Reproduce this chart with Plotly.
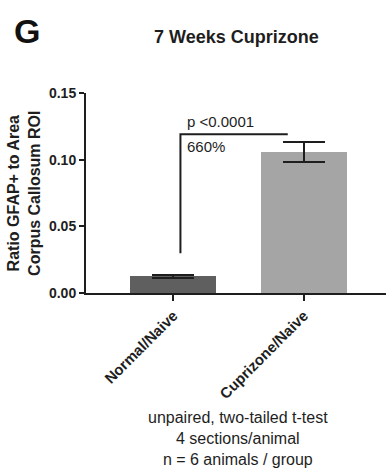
import plotly.graph_objects as go

# Group summary: mean ratio and SEM for each group
groups = ["Normal/Naive", "Cuprizone/Naive"]
means = [0.0125, 0.1058]
sems = [0.0012, 0.0075]
bar_colors = ["#5f5f5f", "#a5a5a5"]

y_ticks = [0.00, 0.05, 0.10, 0.15]
y_tick_text = ["0.00", "0.05", "0.10", "0.15"]

# Significance bracket (data coordinates)
bracket_x = [0.054, 0.054, 0.877]
bracket_y = [0.0298, 0.119, 0.119]
p_text = "p <0.0001"
pct_text = "660%"

FONT = "Liberation Sans, Arial, sans-serif"
INK = "#1e1e1e"

fig = go.Figure()

fig.add_trace(go.Bar(
    x=[0, 1],
    y=means,
    width=0.66,
    marker=dict(color=bar_colors, line=dict(width=0)),
    error_y=dict(type="data", array=sems, visible=True,
                 color=INK, thickness=2.2, width=21),
    showlegend=False,
    hoverinfo="skip",
))

fig.add_trace(go.Scatter(
    x=bracket_x, y=bracket_y, mode="lines",
    line=dict(color=INK, width=2),
    showlegend=False, hoverinfo="skip",
))

fig.update_layout(
    width=386, height=468,
    margin=dict(l=86, r=0, t=93, b=175),
    paper_bgcolor="white", plot_bgcolor="white",
    font=dict(family=FONT, color=INK),
    bargap=0,
)

fig.update_xaxes(
    range=[-0.67, 1.63],
    tickmode="array", tickvals=[0, 1], ticktext=groups,
    tickangle=-45,
    tickfont=dict(size=15, family=FONT, color=INK, weight="bold"),
    showline=True, linecolor=INK, linewidth=2,
    ticks="outside", ticklen=6, tickwidth=2, tickcolor=INK,
    showgrid=False, zeroline=False,
)

fig.update_yaxes(
    range=[0, 0.15],
    tickmode="array", tickvals=y_ticks, ticktext=y_tick_text,
    tickfont=dict(size=14, family=FONT, color=INK, weight="bold"),
    showline=True, linecolor=INK, linewidth=2,
    ticks="outside", ticklen=5, tickwidth=2, tickcolor=INK,
    showgrid=False, zeroline=False,
)

annotations = [
    dict(text="<b>G</b>", x=-0.198, y=1.3125, xref="paper", yref="paper",
         xanchor="center", yanchor="middle", showarrow=False,
         font=dict(size=34, family=FONT, color="#111")),
    dict(text="<b>7 Weeks Cuprizone</b>", x=0.503, y=1.28, xref="paper", yref="paper",
         xanchor="center", yanchor="middle", showarrow=False,
         font=dict(size=18, family=FONT, color=INK)),
    dict(text="<b>Ratio GFAP+ to Area<br>Corpus Callosum ROI</b>", x=-0.207, y=0.5,
         xref="paper", yref="paper", textangle=-90,
         xanchor="center", yanchor="middle", showarrow=False,
         font=dict(size=16, family=FONT, color=INK)),
    dict(text=p_text, x=0.092, y=0.129, xref="x", yref="y",
         xanchor="left", yanchor="middle", showarrow=False,
         font=dict(size=15, family=FONT, color=INK)),
    dict(text=pct_text, x=0.092, y=0.110, xref="x", yref="y",
         xanchor="left", yanchor="middle", showarrow=False,
         font=dict(size=15, family=FONT, color=INK)),
    dict(text="unpaired, two-tailed t-test<br>4 sections/animal<br>n = 6 animals / group",
         x=0.507, y=-0.725, xref="paper", yref="paper",
         xanchor="center", yanchor="middle", showarrow=False,
         font=dict(size=16, family=FONT, color=INK)),
]
fig.update_layout(annotations=annotations)

fig.write_html("out.html")
